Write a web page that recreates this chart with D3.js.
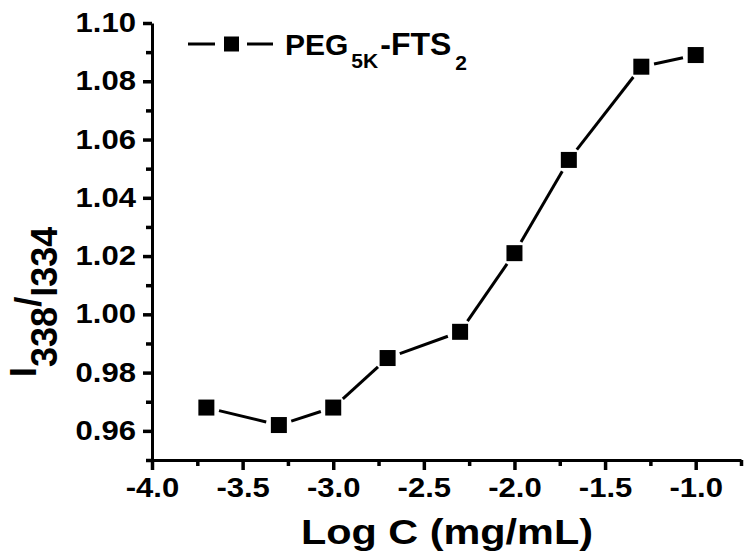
<!DOCTYPE html>
<html>
<head>
<meta charset="utf-8">
<script src="https://cdn.jsdelivr.net/npm/d3@7/dist/d3.min.js"></script>
<style>
  body { margin: 0; background: #fff; }
  svg { display: block; font-family: "Liberation Sans", Arial, sans-serif; font-weight: bold; }
</style>
</head>
<body>
<script>
// data
const logC = [-3.7, -3.3, -3.0, -2.7, -2.3, -2.0, -1.7, -1.3, -1.0];
const ratio = [0.968, 0.962, 0.968, 0.985, 0.994, 1.021, 1.053, 1.085, 1.089];
const xTicks = [-4.0, -3.5, -3.0, -2.5, -2.0, -1.5, -1.0];
const xMinor = [-3.75, -3.25, -2.75, -2.25, -1.75, -1.25, -0.75];
const yTicks = [0.96, 0.98, 1.00, 1.02, 1.04, 1.06, 1.08, 1.10];
const yMinor = [0.95, 0.97, 0.99, 1.01, 1.03, 1.05, 1.07, 1.09];

const width = 750, height = 558;
const stretch = 'scale(1.15,1)';

const x = d3.scaleLinear().domain([-4.0, -0.75]).range([152, 741]);
const y = d3.scaleLinear().domain([0.95, 1.10]).range([460, 23]);

const svg = d3.select('body').append('svg')
  .attr('width', width)
  .attr('height', height)
  .attr('viewBox', [0, 0, width, height]);

// minor ticks
svg.append('g')
  .attr('transform', `translate(0,${y.range()[0]})`)
  .call(d3.axisBottom(x).tickValues(xMinor).tickSize(6).tickFormat(''))
  .call(g => g.select('.domain').remove());

svg.append('g')
  .attr('transform', `translate(${x.range()[0]},0)`)
  .call(d3.axisLeft(y).tickValues(yMinor).tickSize(6).tickFormat(''))
  .call(g => g.select('.domain').remove());

// major axes
const xAxis = svg.append('g')
  .attr('transform', `translate(0,${y.range()[0]})`)
  .call(d3.axisBottom(x).tickValues(xTicks).tickSize(10).tickSizeOuter(0)
    .tickFormat(d => d.toFixed(1)));

const yAxis = svg.append('g')
  .attr('transform', `translate(${x.range()[0]},0)`)
  .call(d3.axisLeft(y).tickValues(yTicks).tickSize(9).tickSizeOuter(0)
    .tickFormat(d => d.toFixed(2)));

svg.selectAll('.tick line').attr('stroke', '#000').attr('stroke-width', 3.5);
svg.selectAll('.domain').attr('stroke', '#000').attr('stroke-width', 3);

xAxis.selectAll('text')
  .attr('y', 37).attr('dy', null)
  .attr('font-size', 27)
  .attr('font-family', null)
  .attr('fill', '#000')
  .attr('transform', stretch);

yAxis.selectAll('text')
  .attr('x', -14)
  .attr('font-size', 27)
  .attr('font-family', null)
  .attr('fill', '#000')
  .attr('transform', stretch);

// axis titles
svg.append('text')
  .attr('transform', `translate(447,544) ${stretch}`)
  .attr('text-anchor', 'middle')
  .attr('font-size', 36)
  .text('Log C (mg/mL)');

const yTitle = svg.append('text')
  .attr('transform', 'translate(36,302) rotate(-90)')
  .attr('text-anchor', 'middle')
  .attr('font-size', 37);
yTitle.append('tspan').text('I');
yTitle.append('tspan').attr('font-size', 36).attr('dy', 21).text('338');
yTitle.append('tspan').attr('font-size', 36).attr('dy', -16).text('/');
yTitle.append('tspan').attr('font-size', 36).attr('dy', 16).text('I334');

// series line, with gaps around the symbols
const pts = logC.map((d, i) => [x(d), y(ratio[i])]);
const gap = 13;
const segs = d3.pairs(pts).map(([a, b]) => {
  const dx = b[0] - a[0], dy = b[1] - a[1];
  const len = Math.hypot(dx, dy);
  const ux = dx / len, uy = dy / len;
  return [[a[0] + ux * gap, a[1] + uy * gap], [b[0] - ux * gap, b[1] - uy * gap]];
});

svg.append('g')
  .attr('stroke', '#000')
  .attr('stroke-width', 3)
  .selectAll('line')
  .data(segs)
  .join('line')
  .attr('x1', d => d[0][0]).attr('y1', d => d[0][1])
  .attr('x2', d => d[1][0]).attr('y2', d => d[1][1]);

const size = 16;
svg.append('g')
  .selectAll('rect')
  .data(pts)
  .join('rect')
  .attr('x', d => d[0] - size / 2)
  .attr('y', d => d[1] - size / 2)
  .attr('width', size)
  .attr('height', size)
  .attr('fill', '#000');

// legend
const leg = svg.append('g').attr('transform', 'translate(188,44)');
leg.append('line').attr('x1', 0).attr('x2', 27).attr('stroke', '#000').attr('stroke-width', 3);
leg.append('line').attr('x1', 59).attr('x2', 85).attr('stroke', '#000').attr('stroke-width', 3);
leg.append('rect').attr('x', 36).attr('y', -7.5).attr('width', 15).attr('height', 15).attr('fill', '#000');

const legText = leg.append('text')
  .attr('x', 97).attr('y', 11)
  .attr('font-size', 30);
legText.append('tspan').text('PEG');
legText.append('tspan').attr('font-size', 21).attr('dy', 13).attr('dx', 3).text('5K');
legText.append('tspan').attr('font-size', 32).attr('dy', -13).attr('dx', 2).text('-FTS');
legText.append('tspan').attr('font-size', 21).attr('dy', 15).attr('dx', 4).text('2');
</script>
</body>
</html>
